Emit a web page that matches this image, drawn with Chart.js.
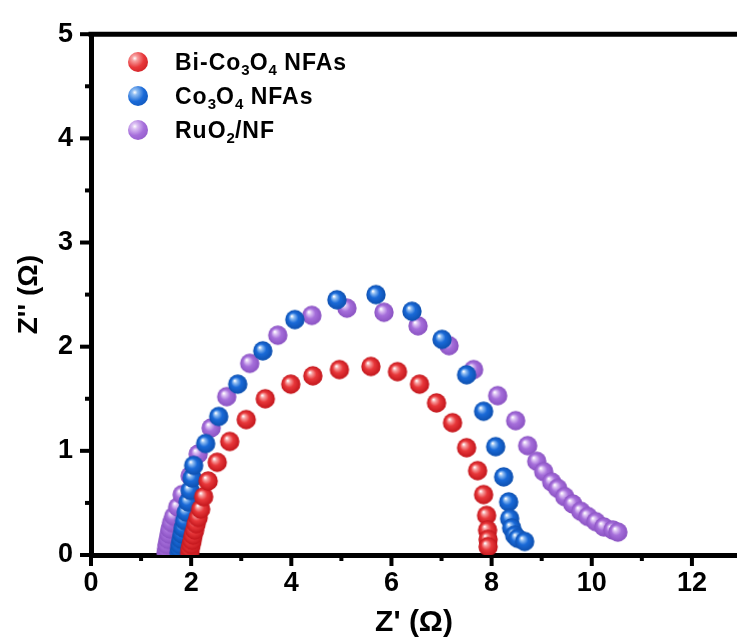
<!DOCTYPE html>
<html>
<head>
<meta charset="utf-8">
<script src="https://cdn.jsdelivr.net/npm/chart.js@4.4.1/dist/chart.umd.min.js"></script>
<style>
  html, body { margin: 0; padding: 0; background: #fff; }
  #wrap { position: relative; width: 737px; height: 644px; }
  #legend { position: absolute; left: 128px; top: 45px; font-family: "Liberation Sans", Arial, sans-serif; font-weight: bold; font-size: 23px; letter-spacing: 1px; color: #000; }
  .row { height: 34px; display: flex; align-items: center; }
  .dot { width: 20px; height: 20px; border-radius: 50%; margin-right: 27px; }
  .row sub { font-size: 15px; vertical-align: -5px; line-height: 0; letter-spacing: 0; }
</style>
</head>
<body>
<div id="wrap">
  <canvas id="c" width="737" height="644"></canvas>
  <div id="legend">
    <div class="row"><span class="dot" id="d0"></span><span>Bi-Co<sub>3</sub>O<sub>4</sub> NFAs</span></div>
    <div class="row"><span class="dot" id="d1"></span><span>Co<sub>3</sub>O<sub>4</sub> NFAs</span></div>
    <div class="row"><span class="dot" id="d2"></span><span>RuO<sub>2</sub>/NF</span></div>
  </div>
</div>
<script>
// ---- Data ----
const seriesNames = ["Bi-Co3O4 NFAs", "Co3O4 NFAs", "RuO2/NF"];

const biCoX = [1.97,1.98,2.00,2.02,2.04,2.07,2.10,2.14,2.19,2.25,2.34,2.52,2.77,3.10,3.48,3.99,4.43,4.96,5.59,6.12,6.56,6.90,7.22,7.50,7.72,7.84,7.90,7.92,7.93,7.93];
const biCoY = [0.02,0.06,0.10,0.14,0.19,0.24,0.30,0.36,0.44,0.56,0.71,0.89,1.09,1.30,1.50,1.64,1.72,1.78,1.81,1.76,1.64,1.46,1.27,1.03,0.81,0.58,0.38,0.24,0.15,0.08];

const coX = [1.76,1.77,1.78,1.80,1.82,1.84,1.87,1.90,1.94,1.98,2.02,2.05,2.29,2.55,2.93,3.43,4.07,4.91,5.69,6.41,7.01,7.50,7.84,8.08,8.24,8.34,8.36,8.40,8.46,8.52,8.66];
const coY = [0.02,0.06,0.10,0.15,0.20,0.26,0.33,0.41,0.51,0.62,0.74,0.86,1.07,1.33,1.64,1.96,2.26,2.45,2.50,2.34,2.07,1.73,1.38,1.04,0.75,0.51,0.35,0.26,0.19,0.16,0.13];

const ruX = [1.50,1.51,1.52,1.54,1.56,1.58,1.61,1.65,1.73,1.82,1.98,2.14,2.40,2.71,3.17,3.73,4.41,5.11,5.85,6.53,7.15,7.64,8.12,8.48,8.72,8.90,9.04,9.20,9.32,9.46,9.62,9.78,9.92,10.08,10.24,10.42,10.52];
const ruY = [0.02,0.06,0.10,0.15,0.20,0.25,0.31,0.37,0.46,0.58,0.76,0.97,1.22,1.52,1.84,2.11,2.30,2.37,2.33,2.20,2.01,1.78,1.53,1.29,1.05,0.90,0.80,0.70,0.64,0.56,0.49,0.42,0.37,0.32,0.27,0.24,0.22];

const xTickLabels = ["0","2","4","6","8","10","12"];
const yTickLabels = ["0","1","2","3","4","5"];

// ---- Styling ----
const colors = [
  {base: "#e8383b", light: "#f7a0a0", dark: "#c2151b"},
  {base: "#1a6ad8", light: "#8fbdf2", dark: "#0d4fae"},
  {base: "#a66fdb", light: "#dcc1f3", dark: "#8a52c2"}
];
const FONT = "'Liberation Sans', Arial, sans-serif";

function sphere(c, r) {
  const d = Math.ceil(2 * r) + 2;
  const cv = document.createElement("canvas");
  cv.width = d; cv.height = d;
  const g = cv.getContext("2d");
  const cx = d / 2, cy = d / 2;
  const grad = g.createRadialGradient(cx - r * 0.32, cy - r * 0.36, r * 0.04, cx, cy, r);
  grad.addColorStop(0, "#ffffff");
  grad.addColorStop(0.18, c.light);
  grad.addColorStop(0.5, c.base);
  grad.addColorStop(1, c.dark);
  g.fillStyle = grad;
  g.beginPath(); g.arc(cx, cy, r, 0, Math.PI * 2); g.fill();
  return cv;
}
["d0","d1","d2"].forEach((id, i) => {
  const c = colors[i];
  document.getElementById(id).style.background =
    `radial-gradient(circle at 34% 32%, #fff 0%, ${c.light} 14%, ${c.base} 48%, ${c.dark} 100%)`;
});

function toPts(xs, ys) { return xs.map((x, i) => ({x, y: ys[i]})); }

const R = 9.7;
const datasets = [
  {label: seriesNames[0], data: toPts(biCoX, biCoY), pointStyle: sphere(colors[0], R)},
  {label: seriesNames[1], data: toPts(coX, coY), pointStyle: sphere(colors[1], R)},
  {label: seriesNames[2], data: toPts(ruX, ruY), pointStyle: sphere(colors[2], R)}
].map(d => Object.assign(d, {showLine: false, pointRadius: R, pointHoverRadius: R, clip: 0}));

const tickPlugin = {
  id: "tickMarks",
  afterDraw(chart) {
    const ctx = chart.ctx, a = chart.chartArea;
    const xs = chart.scales.x, ys = chart.scales.y;
    ctx.save();
    ctx.strokeStyle = "#000";
    ctx.lineCap = "butt";
    // top frame line
    ctx.lineWidth = 5;
    ctx.beginPath(); ctx.moveTo(a.left - 2.5, a.top); ctx.lineTo(a.right, a.top); ctx.stroke();
    ctx.lineWidth = 4;
    xs.ticks.forEach(t => {
      const p = xs.getPixelForValue(t.value);
      const major = Math.abs(t.value % 2) < 1e-6;
      const len = major ? 11 : 6;
      ctx.beginPath(); ctx.moveTo(p, a.bottom); ctx.lineTo(p, a.bottom + len); ctx.stroke();
    });
    ys.ticks.forEach(t => {
      const p = ys.getPixelForValue(t.value);
      const major = Math.abs(t.value % 1) < 1e-6;
      const len = major ? 11 : 6;
      ctx.beginPath(); ctx.moveTo(a.left, p); ctx.lineTo(a.left - len, p); ctx.stroke();
    });
    ctx.restore();
  }
};

new Chart(document.getElementById("c"), {
  type: "scatter",
  data: {datasets},
  plugins: [tickPlugin],
  options: {
    responsive: false,
    animation: false,
    events: [],
    layout: {autoPadding: false, padding: {top: 30, right: 0, bottom: 0, left: 0}},
    plugins: {legend: {display: false}, tooltip: {enabled: false}},
    scales: {
      x: {
        type: "linear", min: 0, max: 12.9, z: 1,
        grid: {display: false, drawTicks: false},
        border: {display: true, width: 5, color: "#000"},
        ticks: {
          stepSize: 1, includeBounds: false, autoSkip: false, maxRotation: 0,
          padding: 12, color: "#000",
          font: {family: FONT, size: 27, weight: "bold"},
          callback: v => (Math.abs(v % 2) < 1e-6 ? xTickLabels[v / 2] : "")
        },
        title: {display: true, text: "Z' (Ω)", color: "#000", padding: {top: 0, bottom: 3},
                font: {family: FONT, size: 30, weight: "bold"}},
        afterFit: s => { s.height = 89; }
      },
      y: {
        type: "linear", min: 0, max: 5, z: 1,
        grid: {display: false, drawTicks: false},
        border: {display: true, width: 5, color: "#000"},
        ticks: {
          stepSize: 0.5, autoSkip: false, padding: 18, color: "#000",
          font: {family: FONT, size: 27, weight: "bold"},
          callback: v => (Math.abs(v % 1) < 1e-6 ? yTickLabels[v] : "")
        },
        title: {display: true, text: "Z'' (Ω)", color: "#000", padding: {top: 12, bottom: 0},
                font: {family: FONT, size: 28, weight: "bold"}},
        afterFit: s => { s.width = 91; }
      }
    }
  }
});
</script>
</body>
</html>
